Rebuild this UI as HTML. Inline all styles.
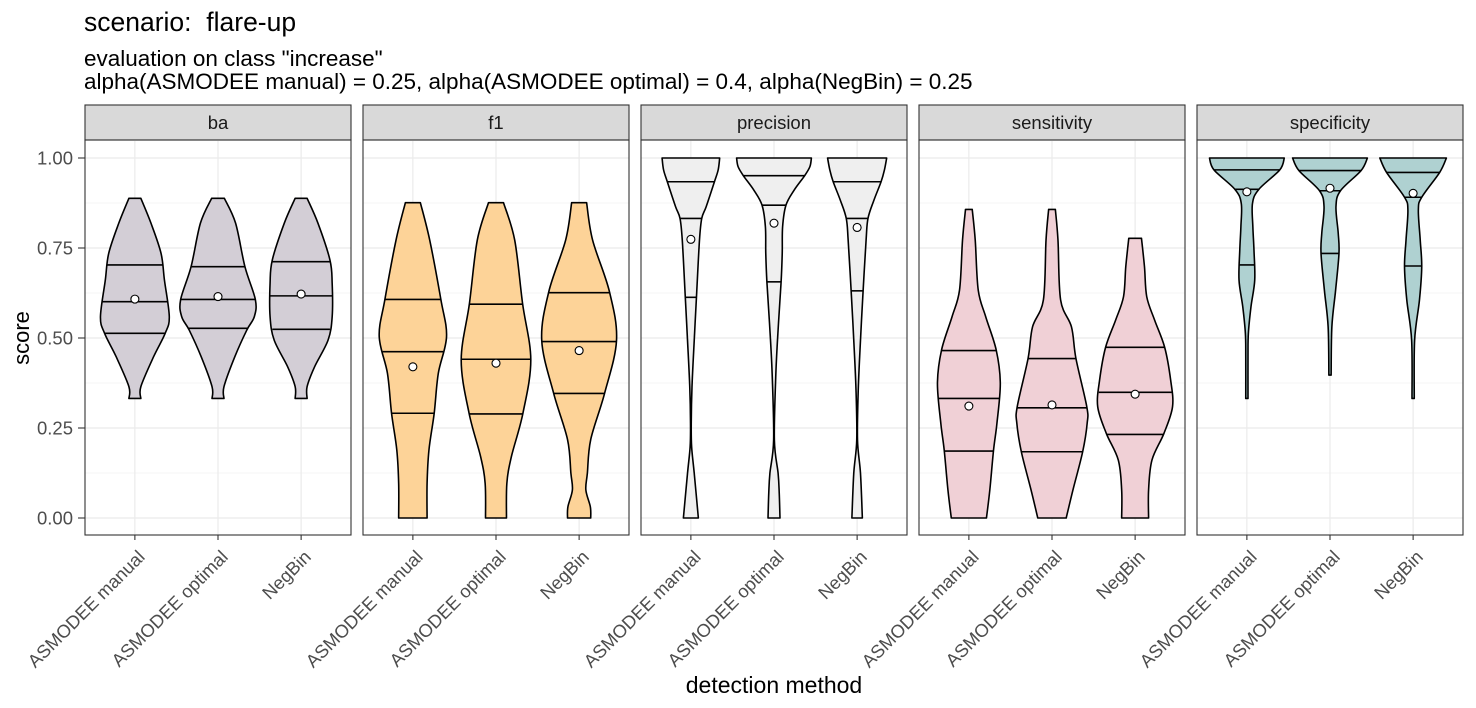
<!DOCTYPE html>
<html><head><meta charset="utf-8"><style>
body{margin:0;background:#fff;}
svg{display:block;font-family:"Liberation Sans",Arial,sans-serif;}
</style></head><body>
<svg id="chart" width="1476" height="708" viewBox="0 0 1476 708">
<text x="84" y="31" font-size="26.5" fill="#000" xml:space="preserve">scenario:  flare-up</text>
<text x="84" y="66" font-size="22.5" fill="#000">evaluation on class "increase"</text>
<text x="84" y="89" font-size="22.5" fill="#000">alpha(ASMODEE manual) = 0.25, alpha(ASMODEE optimal) = 0.4, alpha(NegBin) = 0.25</text>
<text x="774" y="693" font-size="23" text-anchor="middle" fill="#000">detection method</text>
<text transform="translate(29,338) rotate(-90)" font-size="22" text-anchor="middle" fill="#000">score</text>
<g id="plots"></g>
</svg>
<script>
const metrics = ["ba","f1","precision","sensitivity","specificity"];
const methods = ["ASMODEE manual","ASMODEE optimal","NegBin"];
const fills = ["#D3CED6","#FDD398","#EFEFEF","#F0D0D6","#AFD1D1"];
const yTicks = [0,0.25,0.5,0.75,1];
const yTickLabels = ["0.00","0.25","0.50","0.75","1.00"];
// density profiles: score levels (desc) and relative widths
const profileScores = [
 [[0.888,0.819,0.735,0.661,0.559,0.513,0.448,0.365,0.332],
  [0.888,0.819,0.698,0.606,0.559,0.522,0.448,0.365,0.332],
  [0.888,0.819,0.717,0.652,0.559,0.494,0.420,0.365,0.332]],
 [[0.876,0.772,0.606,0.504,0.402,0.291,0.189,0.096,0],
  [0.876,0.772,0.596,0.439,0.291,0.170,0.096,0],
  [0.876,0.772,0.629,0.494,0.346,0.218,0.124,0.078,0.031,0]],
 [[1,0.967,0.934,0.865,0.832,0.772,0.615,0.494,0.365,0.263,0.198,0.124,0],
  [1,0.976,0.951,0.911,0.869,0.809,0.735,0.656,0.541,0.402,0.217,0.124,0.069,0],
  [1,0.967,0.934,0.883,0.832,0.772,0.631,0.494,0.356,0.217,0.124,0]],
 [[0.857,0.772,0.633,0.559,0.467,0.374,0.263,0.189,0.078,0],
  [0.857,0.772,0.606,0.531,0.443,0.309,0.263,0.184,0.078,0],
  [0.777,0.698,0.615,0.550,0.474,0.383,0.309,0.235,0.161,0.078,0]],
 [[1,0.967,0.913,0.874,0.809,0.744,0.661,0.587,0.513,0.448,0.332],
  [1,0.965,0.909,0.865,0.791,0.735,0.633,0.531,0.397],
  [1,0.960,0.891,0.856,0.772,0.698,0.606,0.494,0.332]]
];
const profileWidths = [
 [[0.16,0.43,0.70,0.79,0.92,0.81,0.50,0.16,0.16],
  [0.17,0.47,0.72,1.0,0.97,0.77,0.45,0.16,0.16],
  [0.16,0.45,0.77,0.83,0.83,0.72,0.36,0.16,0.16]],
 [[0.2,0.45,0.75,0.90,0.68,0.57,0.43,0.38,0.38],
  [0.2,0.5,0.71,0.93,0.72,0.41,0.29,0.28],
  [0.2,0.36,0.81,1.0,0.68,0.31,0.22,0.18,0.30,0.31]],
 [[0.77,0.73,0.63,0.41,0.29,0.23,0.15,0.09,0.03,0.01,0.02,0.09,0.2],
  [1.0,0.96,0.82,0.54,0.32,0.23,0.22,0.19,0.12,0.05,0.01,0.11,0.14,0.16],
  [0.79,0.73,0.64,0.45,0.29,0.24,0.16,0.09,0.03,0.01,0.09,0.14]],
 [[0.09,0.17,0.25,0.45,0.73,0.84,0.75,0.66,0.56,0.47],
  [0.09,0.16,0.23,0.52,0.64,0.93,0.94,0.82,0.56,0.38],
  [0.17,0.25,0.31,0.52,0.79,0.95,1.0,0.77,0.45,0.36,0.36]],
 [[1.0,0.88,0.32,0.15,0.16,0.19,0.21,0.11,0.04,0.03,0.03],
  [1.0,0.83,0.28,0.16,0.22,0.24,0.15,0.05,0.03],
  [0.89,0.71,0.23,0.14,0.19,0.23,0.17,0.04,0.03]]
];
const quartiles = [
 [[0.513,0.601,0.703],[0.527,0.607,0.698],[0.524,0.617,0.712]],
 [[0.291,0.462,0.607],[0.289,0.441,0.594],[0.346,0.490,0.626]],
 [[0.613,0.832,0.934],[0.656,0.869,0.951],[0.631,0.832,0.934]],
 [[0.186,0.332,0.465],[0.184,0.306,0.443],[0.232,0.349,0.474]],
 [[0.703,0.913,0.967],[0.735,0.909,0.965],[0.700,0.891,0.960]]
];
const means = [
 [0.608,0.615,0.622],
 [0.420,0.430,0.465],
 [0.774,0.819,0.807],
 [0.311,0.314,0.344],
 [0.906,0.916,0.902]
];

const NS="http://www.w3.org/2000/svg";
const root=document.getElementById('plots');
const panelLeft0=85, panelW=266, panelGap=12, panelTop=140, panelBot=535;
const yScale=v=>518-v*360;
const unit=panelW/3.2, W=0.45*unit;
function mk(tag,attrs,parent){const e=document.createElementNS(NS,tag);for(const k in attrs)e.setAttribute(k,attrs[k]);(parent||root).appendChild(e);return e;}
function widthAt(sc,ws,v){
  for(let i=0;i<sc.length-1;i++){
    if(v<=sc[i]&&v>=sc[i+1]){const t=(sc[i]-v)/(sc[i]-sc[i+1]||1);return ws[i]+(ws[i+1]-ws[i])*t;}
  }
  return ws[ws.length-1];
}
function crPath(pts){
  let d="";
  for(let i=0;i<pts.length-1;i++){
    const p0=pts[Math.max(0,i-1)],p1=pts[i],p2=pts[i+1],p3=pts[Math.min(pts.length-1,i+2)];
    const c1=[p1[0]+(p2[0]-p0[0])/6,p1[1]+(p2[1]-p0[1])/6];
    const c2=[p2[0]-(p3[0]-p1[0])/6,p2[1]-(p3[1]-p1[1])/6];
    d+=` C${c1[0].toFixed(2)},${c1[1].toFixed(2)} ${c2[0].toFixed(2)},${c2[1].toFixed(2)} ${p2[0].toFixed(2)},${p2[1].toFixed(2)}`;
  }
  return d;
}
yTicks.forEach((t,i)=>{
  const lbl=mk('text',{x:73,y:yScale(t)+6.5,'font-size':18.5,'text-anchor':'end',fill:'#4D4D4D'});
  
  
  lbl.textContent=yTickLabels[i];
  const tk=mk('line',{x1:78,x2:85,y1:yScale(t),y2:yScale(t),stroke:'#333','stroke-width':1.1});
  
  
});
metrics.forEach((m,pi)=>{
  const x0=panelLeft0+pi*(panelW+panelGap);
  const g=mk('g',{});
  
  
  const strip=mk('rect',{x:x0,y:105,width:panelW,height:35,fill:'#D9D9D9',stroke:'#333','stroke-width':1.1},g);
  
  
  const st=mk('text',{x:x0+panelW/2,y:129,'font-size':18.5,'text-anchor':'middle',fill:'#1A1A1A'},g);
  
  
  st.textContent=m;
  for(let k=0;k<4;k++){
    const v=0.125+0.25*k;
    const gl=mk('line',{x1:x0,x2:x0+panelW,y1:yScale(v),y2:yScale(v),stroke:'#F2F2F2','stroke-width':0.8},g);
    
    
  }
  yTicks.forEach(t=>{
    const gl=mk('line',{x1:x0,x2:x0+panelW,y1:yScale(t),y2:yScale(t),stroke:'#EBEBEB','stroke-width':1.2},g);
    
    
  });
  methods.forEach((me,mi)=>{
    const cx=x0+(0.6+mi)*unit;
    const gl=mk('line',{x1:cx,x2:cx,y1:panelTop,y2:panelBot,stroke:'#EBEBEB','stroke-width':1.2},g);
    
    
  });
  methods.forEach((me,mi)=>{
    const cx=x0+(0.6+mi)*unit;
    const sc=profileScores[pi][mi], ws=profileWidths[pi][mi];
    const right=sc.map((s,i)=>[cx+ws[i]*W,yScale(s)]);
    const left=sc.map((s,i)=>[cx-ws[i]*W,yScale(s)]).reverse();
    let d=`M${cx-ws[0]*W},${yScale(sc[0])} L${right[0][0]},${right[0][1]}`+crPath(right)+` L${left[0][0]},${left[0][1]}`+crPath(left)+" Z";
    const v=mk('path',{d:d,fill:fills[pi],stroke:'#000','stroke-width':1.6,'stroke-linejoin':'round'},g);
    
    
    quartiles[pi][mi].forEach(q=>{
      const w=widthAt(sc,ws,q)*W;
      const ql=mk('line',{x1:cx-w,x2:cx+w,y1:yScale(q),y2:yScale(q),stroke:'#000','stroke-width':1.6},g);
      
      
    });
    const c=mk('circle',{cx:cx,cy:yScale(means[pi][mi]),r:4,fill:'#fff',stroke:'#000','stroke-width':1.1},g);
    
    
    const tk=mk('line',{x1:cx,x2:cx,y1:panelBot,y2:panelBot+5,stroke:'#333','stroke-width':1.1},g);
    
    
    const tl=mk('text',{transform:`translate(${cx+11},${558}) rotate(-45)`,'font-size':18.3,'text-anchor':'end',fill:'#4D4D4D'},g);
    
    
    tl.textContent=me;
  });
  const border=mk('rect',{x:x0,y:panelTop,width:panelW,height:panelBot-panelTop,fill:'none',stroke:'#333','stroke-width':1.1},g);
  
  
});
</script>
</body></html>
